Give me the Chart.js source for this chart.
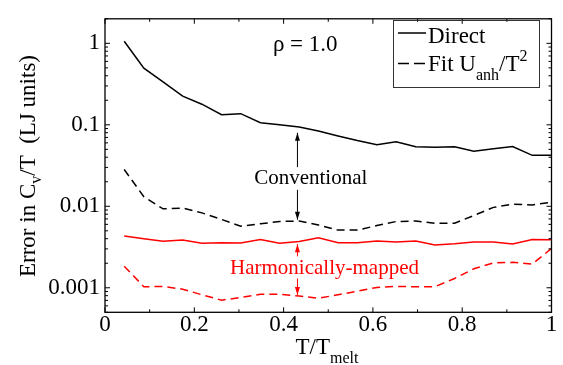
<!DOCTYPE html>
<html lang="en">
<head>
    <meta charset="UTF-8">
    <title>Error in Cv/T</title>
    <script src="https://cdn.jsdelivr.net/npm/chart.js"></script>
    <style>
        html, body { margin: 0; padding: 0; background: #fff; }
        canvas { display: block; }
    </style>
</head>
<body>
    <canvas id="errChart" width="563" height="365"></canvas>

    <script>
        // T / T_melt sample points
        const tRatio = [0.043, 0.087, 0.130, 0.174, 0.217, 0.261, 0.304, 0.348, 0.391, 0.435, 0.478, 0.522,
                        0.565, 0.609, 0.652, 0.696, 0.739, 0.783, 0.826, 0.870, 0.913, 0.957, 1.000];

        // conventional (black)
        const directConv = [1.06, 0.495, 0.336, 0.225, 0.179, 0.133, 0.137, 0.106, 0.100, 0.094, 0.084, 0.073,
                            0.064, 0.057, 0.062, 0.0537, 0.053, 0.0537, 0.0475, 0.0508, 0.054, 0.0422, 0.0422];
        const fitConv = [0.0283, 0.0131, 0.0093, 0.0095, 0.0083, 0.0069, 0.0057, 0.0061, 0.0065, 0.0066, 0.0059, 0.0051,
                         0.0051, 0.0058, 0.0065, 0.0066, 0.0062, 0.0062, 0.0077, 0.0097, 0.0106, 0.0104, 0.0112];

        // harmonically-mapped (red)
        const directHM = [0.00432, 0.0040, 0.00373, 0.00385, 0.00353, 0.00358, 0.00355, 0.0039, 0.00353, 0.00369, 0.0041, 0.00358,
                          0.00358, 0.00376, 0.00364, 0.00376, 0.00334, 0.00346, 0.00364, 0.00364, 0.00344, 0.0039, 0.00389];
        const fitHM = [0.00184, 0.00103, 0.00104, 0.00096, 0.00082, 0.000705, 0.00076, 0.00083, 0.00083, 0.00079, 0.000745, 0.00082,
                       0.00091, 0.00101, 0.00104, 0.00103, 0.00103, 0.0013, 0.00171, 0.00202, 0.00205, 0.00195, 0.00304];

        const xTicks = [0, 0.2, 0.4, 0.6, 0.8, 1];
        const xTickLabels = ['0', '0.2', '0.4', '0.6', '0.8', '1'];
        const yTicks = [0.001, 0.01, 0.1, 1];
        const yTickLabels = ['0.001', '0.01', '0.1', '1'];

        const FONT = "'Liberation Serif', 'Times New Roman', serif";
        const GREEK = "'Liberation Serif', 'DejaVu Serif', serif";
        const RED = '#ff0000';

        function pairs(ys) {
            return ys.map((v, i) => ({ x: tRatio[i], y: v }));
        }

        function lineSet(label, ys, color, dashed) {
            return {
                label: label,
                data: pairs(ys),
                borderColor: color,
                borderWidth: 1.5,
                borderDash: dashed ? [8, 5] : [],
                pointRadius: 0,
                fill: false,
                tension: 0
            };
        }

        // draw a vertical arrow from value v0 to v1 (head at v1)
        function arrow(ctx, x, y, xv, v0, v1, color) {
            const px = x.getPixelForValue(xv);
            const p0 = y.getPixelForValue(v0);
            const p1 = y.getPixelForValue(v1);
            const dir = p1 < p0 ? 1 : -1;
            ctx.strokeStyle = color;
            ctx.fillStyle = color;
            ctx.lineWidth = 1;
            ctx.beginPath();
            ctx.moveTo(px, p0);
            ctx.lineTo(px, p1);
            ctx.stroke();
            ctx.beginPath();
            ctx.moveTo(px, p1);
            ctx.lineTo(px - 2.5, p1 + dir * 8);
            ctx.lineTo(px + 2.5, p1 + dir * 8);
            ctx.closePath();
            ctx.fill();
        }

        // text with sub/superscript pieces: [text, size, dy, family]
        function richText(ctx, x0, y0, parts) {
            let cx = x0;
            parts.forEach(p => {
                ctx.font = p[1] + 'px ' + (p[3] || FONT);
                ctx.fillText(p[0], cx, y0 + p[2]);
                cx += ctx.measureText(p[0]).width;
            });
        }

        const decorations = {
            id: 'decorations',
            afterDraw(chart) {
                const { ctx, chartArea: a, scales: { x, y } } = chart;
                ctx.save();

                // tick marks, inward on all four sides
                ctx.strokeStyle = '#000';
                ctx.lineWidth = 1;
                ctx.beginPath();
                for (let i = 0; i <= 10; i++) {
                    const px = x.getPixelForValue(i / 10);
                    const len = i % 2 === 0 ? 5 : 3;
                    ctx.moveTo(px, a.bottom); ctx.lineTo(px, a.bottom - len);
                    ctx.moveTo(px, a.top); ctx.lineTo(px, a.top + len);
                }
                for (let d = -4; d <= 0; d++) {
                    for (let m = 1; m <= 9; m++) {
                        const v = m * Math.pow(10, d);
                        if (v < y.min || v > y.max) continue;
                        const py = y.getPixelForValue(v);
                        const len = m === 1 ? 5 : 3;
                        ctx.moveTo(a.left, py); ctx.lineTo(a.left + len, py);
                        ctx.moveTo(a.right, py); ctx.lineTo(a.right - len, py);
                    }
                }
                ctx.stroke();

                // frame
                ctx.lineWidth = 1.3;
                ctx.strokeRect(a.left, a.top, a.right - a.left, a.bottom - a.top);

                // axis titles
                ctx.fillStyle = '#000';
                ctx.textBaseline = 'alphabetic';
                ctx.textAlign = 'left';
                richText(ctx, 295.5, 354, [['T/T', 23, 0], ['melt', 16, 9]]);

                ctx.save();
                ctx.translate(35, 277);
                ctx.rotate(-Math.PI / 2);
                richText(ctx, 0, 0, [['Error in C', 23, 0], ['v', 16, 6], ['/T  (LJ units)', 23, 0]]);
                ctx.restore();

                // density label
                richText(ctx, x.getPixelForValue(0.376), y.getPixelForValue(0.794),
                    [['\u03c1', 23, 0, GREEK], [' = 1.0', 23, 0]]);

                // annotations
                ctx.font = '21px ' + FONT;
                ctx.fillText('Conventional', x.getPixelForValue(0.334), y.getPixelForValue(0.019));
                arrow(ctx, x, y, 0.431, 0.0302, 0.0798, '#000');
                arrow(ctx, x, y, 0.431, 0.01595, 0.00684, '#000');

                ctx.fillStyle = RED;
                ctx.font = '21px ' + FONT;
                ctx.fillText('Harmonically-mapped', x.getPixelForValue(0.28), y.getPixelForValue(0.00149));
                arrow(ctx, x, y, 0.431, 0.00243, 0.00343, RED);
                arrow(ctx, x, y, 0.431, 0.0013, 0.000816, RED);

                // legend
                ctx.strokeStyle = '#333';
                ctx.lineWidth = 1;
                ctx.strokeRect(393.5, 20.5, 146, 67);
                ctx.strokeStyle = '#000';
                ctx.lineWidth = 1.5;
                ctx.beginPath();
                ctx.moveTo(398, 33); ctx.lineTo(426, 33);
                ctx.stroke();
                ctx.setLineDash([11, 5]);
                ctx.beginPath();
                ctx.moveTo(398, 63.5); ctx.lineTo(426, 63.5);
                ctx.stroke();
                ctx.setLineDash([]);
                ctx.fillStyle = '#000';
                richText(ctx, 428, 43.3, [['Direct', 23, 0]]);
                richText(ctx, 428, 71, [['Fit U', 23, 0], ['anh', 16, 9], ['/T', 23, 0], ['2', 16, -10]]);

                ctx.restore();
            }
        };

        const ctx = document.getElementById('errChart').getContext('2d');
        new Chart(ctx, {
            type: 'line',
            data: {
                datasets: [
                    lineSet('Direct', directConv, '#000', false),
                    lineSet('Fit Uanh/T2', fitConv, '#000', true),
                    lineSet('Direct (HM)', directHM, RED, false),
                    lineSet('Fit Uanh/T2 (HM)', fitHM, RED, true)
                ]
            },
            options: {
                responsive: false,
                animation: false,
                devicePixelRatio: 1,
                layout: { padding: { left: 0, top: 12.7, right: 11.5, bottom: 0 } },
                plugins: {
                    legend: { display: false },
                    tooltip: { enabled: false }
                },
                scales: {
                    x: {
                        type: 'linear',
                        min: 0,
                        max: 1,
                        grid: { display: false, drawTicks: false },
                        border: { display: false },
                        afterBuildTicks: s => { s.ticks = xTicks.map(v => ({ value: v })); },
                        afterFit: s => { s.height = 52.7; },
                        ticks: {
                            autoSkip: false,
                            maxRotation: 0,
                            padding: -1,
                            color: '#000',
                            font: { family: FONT, size: 23 },
                            callback: (v, i) => xTickLabels[i]
                        }
                    },
                    y: {
                        type: 'logarithmic',
                        min: 0.0005,
                        max: 2,
                        grid: { display: false, drawTicks: false },
                        border: { display: false },
                        afterBuildTicks: s => { s.ticks = yTicks.map(v => ({ value: v })); },
                        afterFit: s => { s.width = 105; },
                        ticks: {
                            autoSkip: false,
                            padding: 5,
                            color: '#000',
                            font: { family: FONT, size: 23 },
                            callback: (v, i) => yTickLabels[i]
                        }
                    }
                }
            },
            plugins: [decorations]
        });
    </script>
</body>
</html>
